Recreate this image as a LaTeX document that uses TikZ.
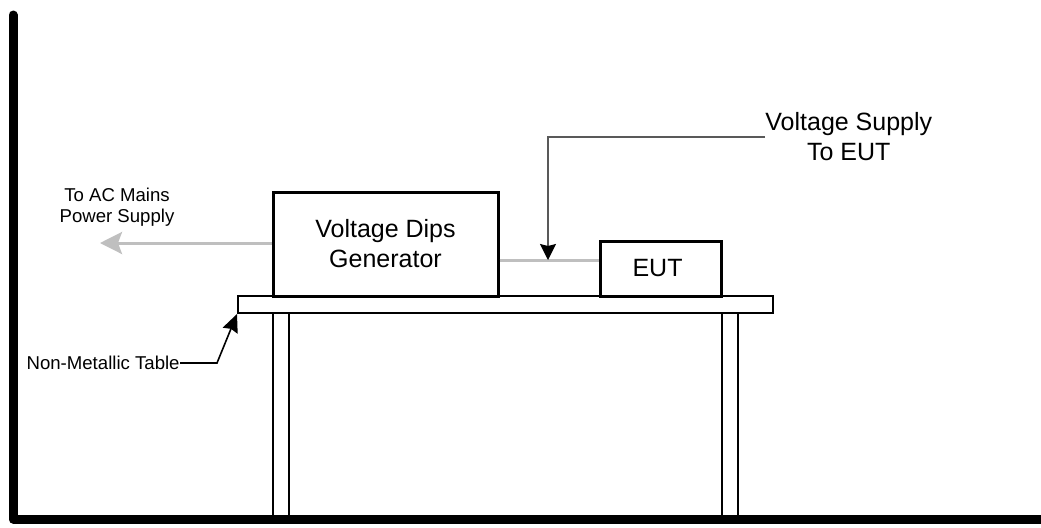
\documentclass[tikz,border=0pt]{standalone}
\usepackage{fontspec}
\setmainfont{Liberation Sans}
\usetikzlibrary{arrows.meta,positioning}

\begin{document}
\begin{tikzpicture}[
    x=0.5pt,
    y=-0.5pt,
    font=\fontsize{12.5}{15}\selectfont,
    unit/.style={
        draw,
        inner sep=0pt,
        align=center,
        line width=1.5pt
    },
    plank/.style={
        draw,
        inner sep=0pt,
        line width=1pt
    },
    note/.style={
        inner sep=0pt,
        align=center,
        font=\fontsize{9.3}{10.8}\selectfont
    },
    wall/.style={
        line width=4.5pt,
        line cap=round,
        line join=round
    },
    feedline/.style={
        draw=black!25,
        line width=1.5pt
    },
    pointer/.style={
        -{Stealth[length=9pt,width=8pt,inset=1pt]},
        line width=0.8pt
    }
]

\useasboundingbox (0,0) rectangle (1041,527);

% room
\draw[wall] (13,15) -- (13,519) -- (1041,519);

% table
\node[plank, minimum width=267.5pt, minimum height=8.5pt] (top) at (505.5,304.5) {};
\draw[line width=0.8pt] (273,313) -- (273,515) (289,313) -- (289,515);
\draw[line width=0.8pt] (722,313) -- (722,515) (738,313) -- (738,515);

% equipment
\node[unit, minimum width=112.5pt, minimum height=52pt] (gen) at (385.5,244) {
    Voltage Dips\\
    Generator
};

\node[unit, minimum width=60.5pt, minimum height=27.5pt] (eut) at (661,268.5) {
    EUT
};

% labels
\node[note] (mains) at (117,207) {
    To AC Mains\\
    Power Supply
};

\node[inner sep=0pt, align=center, anchor=west] (supply) at (765,137) {
    Voltage Supply\\
    To EUT
};

\node[note, anchor=east] (table) at (180,363) {Non-Metallic Table};

\coordinate (feed) at (548,260);
\coordinate (acend) at (100,243);
\coordinate (bend) at (217,363);

% connections
\draw[feedline] (gen.east |- feed) -- (eut.west |- feed);
\draw[feedline, -{Stealth[length=11pt,width=11pt,inset=2pt]}] (gen.west |- acend) -- (acend);
\draw[pointer, draw=black!65, -{Stealth[length=8pt,width=8pt,inset=1pt,black]}] (supply.west) -| (feed);
\draw[pointer] (table.east) -- (bend) -- (top.south west);

\end{tikzpicture}
\end{document}
